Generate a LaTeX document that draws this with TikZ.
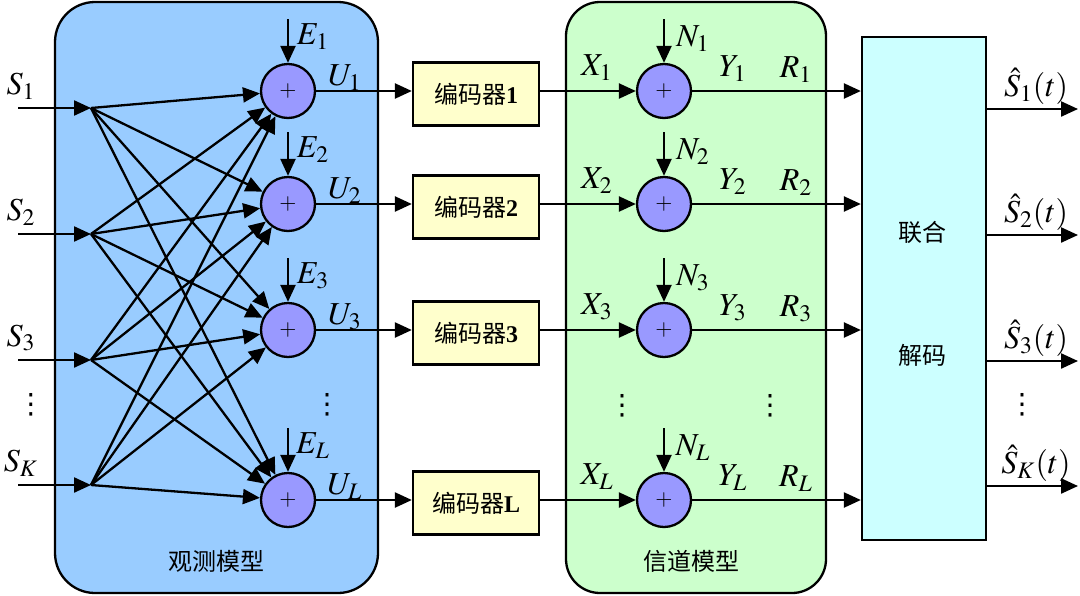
\documentclass[tikz,border=0pt]{standalone}
\usepackage{mathptmx}
\usepackage{fontspec}
\setmainfont{Liberation Serif}
\newfontfamily\cjk{Noto Sans CJK SC}
\newfontfamily\symf{DejaVu Sans}
\usetikzlibrary{arrows.meta}
\definecolor{obsblue}{RGB}{153,204,255}
\definecolor{sumblue}{RGB}{153,153,255}
\definecolor{chgreen}{RGB}{204,255,204}
\definecolor{coderyellow}{RGB}{255,255,204}
\definecolor{deccyan}{RGB}{204,255,255}
\tikzset{
  arr/.style={-{Triangle[length=8.5pt,width=7.5pt]},line width=1.15pt},
  sum/.style={circle,draw,line width=1.15pt,fill=sumblue,minimum size=27pt,inner sep=0pt,font=\fontsize{11}{11}\selectfont},
  coder/.style={draw,line width=1.15pt,fill=coderyellow,minimum width=63pt,minimum height=31.5pt,inner sep=0pt,font=\fontsize{12}{14}\selectfont\cjk},
  cn/.style={font=\fontsize{12}{14}\selectfont\cjk},
  lab/.style={font=\fontsize{16}{18}\selectfont,inner sep=0pt},
  dots/.style={font=\fontsize{14}{14}\selectfont\symf,inner sep=0pt},
}
\begin{document}
\begin{tikzpicture}[x=0.5pt,y=-0.5pt]
\useasboundingbox (0,0) rectangle (1080,595);
\draw[fill=obsblue,line width=1.15pt,rounded corners=20pt] (55,2) rectangle (378,593);
\draw[fill=chgreen,line width=1.15pt,rounded corners=17pt] (566,2) rectangle (826,593);
\node[draw,line width=1.15pt,fill=deccyan,minimum width=62pt,minimum height=251.5pt] (dec) at (924,288.5) {};
\node[cn] (dec1) at (922,232) {联合};
\node[cn] (dec2) at (922,355) {解码};
\node[cn] (obs) at (216,561) {观测模型};
\node[cn] (chn) at (691,561) {信道模型};

\foreach \i/\y in {1/91,2/204,3/330,L/500} {
  \node[sum] (u\i) at (288,\y) {$+$};
  \node[sum] (g\i) at (664,\y) {$+$};
  \node[coder] (c\i) at (476,\y+3) {编码器{\rmfamily\bfseries \i}};
  \coordinate (e\i) at (288,\y-72);
  \coordinate (n\i) at (664,\y-72);
  \draw[arr] (e\i) -- (u\i);
  \draw[arr] (n\i) -- (g\i);
  \draw[arr] (u\i) -- (u\i -| c\i.west);
  \draw[arr] (c\i.east |- g\i) -- (g\i);
  \draw[arr] (g\i) -- (g\i -| dec.west);
  \node[lab] (el\i) at (313,\y-54) {$E_{\i}$};
  \node[lab] (ul\i) at (345,\y-13) {$U_{\i}$};
  \node[lab] (xl\i) at (597,\y-23) {$X_{\i}$};
  \node[lab] (nl\i) at (693,\y-52) {$N_{\i}$};
  \node[lab] (yl\i) at (733,\y-22) {$Y_{\i}$};
  \node[lab] (rl\i) at (796,\y-21) {$R_{\i}$};
}

\foreach \i/\k/\y in {1/1/108,2/2/234,3/3/360,4/K/485} {
  \coordinate (s\i) at (18,\y);
  \coordinate (f\i) at (91,\y);
  \coordinate (o\i) at (1078,\y+1);
  \draw[arr] (s\i) -- (f\i);
  \draw[arr] (dec.east |- o\i) -- (o\i);
  \node[lab] (sl\i) at (21,\y-22) {$S_{\k}$};
  \node[lab] (hl\i) at (1036,\y-22) {$\hat{S}_{\k}(t)$};
}

\foreach \i in {1,...,4}
  \foreach \j in {1,2,3,L}
    \draw[arr] (f\i) -- (u\j);

\node[dots] (d1) at (31,405) {⋮};
\node[dots] (d2) at (327,405) {⋮};
\node[dots] (d3) at (622,406) {⋮};
\node[dots] (d4) at (770,406) {⋮};
\node[dots] (d5) at (1022,405) {⋮};
\end{tikzpicture}
\end{document}
